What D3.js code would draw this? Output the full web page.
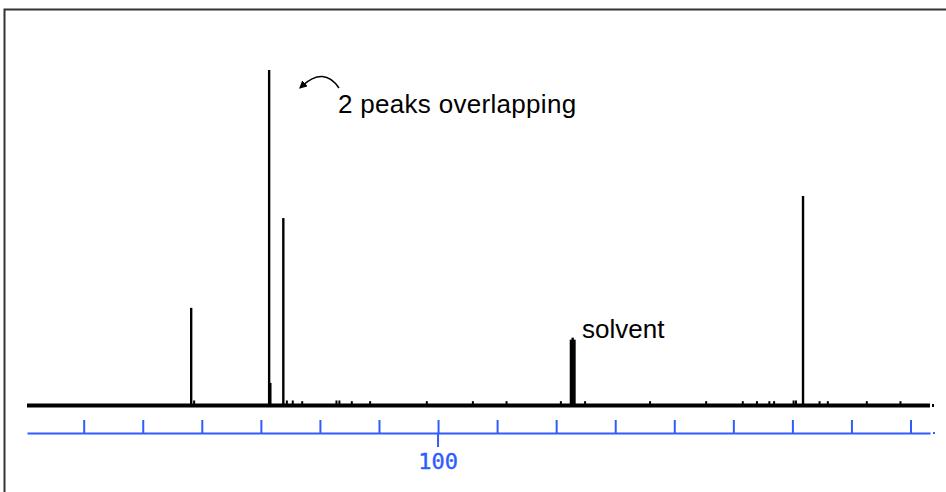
<!DOCTYPE html>
<html>
<head>
<meta charset="utf-8">
<script src="https://cdn.jsdelivr.net/npm/d3@7"></script>
<style>
  body { margin: 0; background: #fff; }
  svg { display: block; }
</style>
</head>
<body>
<svg id="svg-chart"></svg>
<script>
const width = 946;
const height = 492;

// 13C spectrum, chemical shift in ppm (decreasing to the right)
const peakPpm = [141.8, 128.6, 128.4, 126.2, 77.5, 77.2, 76.9, 38.2];
const peakIntensity = [29, 100, 6.6, 55.8, 19.5, 20.1, 19.5, 62.4];

// tiny bumps along the baseline
const noisePpm = [141.3, 125.6, 124.6, 123.0, 117.2, 116.7, 114.6, 111.5, 101.9, 94.1,
  88.4, 79.2, 75.1, 64.1, 54.6, 48.4, 46.0, 43.9, 43.1, 39.8, 39.4, 35.4, 34.0, 27.4, 21.7];
const noiseIntensity = [0.9, 0.9, 0.9, 0.7, 0.9, 0.9, 0.7, 0.7, 0.7, 0.7,
  0.7, 0.7, 0.7, 0.7, 0.7, 0.7, 0.7, 0.7, 0.7, 0.9, 0.9, 0.7, 0.7, 0.7, 0.7];

const tickValues = [160, 150, 140, 130, 120, 110, 100, 90, 80, 70, 60, 50, 40, 30, 20];
const labelledTicks = [100];

const svg = d3.select("#svg-chart").attr("width", width).attr("height", height);

const xScale = d3.scaleLinear().domain([169.6, 16.7]).range([27, 930]);
const yScale = d3.scaleLinear().domain([0, 100]).range([405, 70]);

// frame
svg.append("rect")
  .attr("x", 4.5).attr("y", 9.5)
  .attr("width", 1000).attr("height", 1000)
  .attr("fill", "none")
  .attr("stroke", "#333")
  .attr("stroke-width", 2);

// baseline
svg.append("line")
  .attr("x1", xScale.range()[0]).attr("x2", xScale.range()[1])
  .attr("y1", yScale(0) + 0.5).attr("y2", yScale(0) + 0.5)
  .attr("stroke", "#000")
  .attr("stroke-width", 4);
svg.append("rect")
  .attr("x", xScale.range()[1] + 2).attr("y", yScale(0) - 1)
  .attr("width", 2).attr("height", 3)
  .attr("fill", "#000");

// noise
svg.selectAll(".noise")
  .data(noisePpm)
  .join("line")
  .attr("class", "noise")
  .attr("x1", d => xScale(d)).attr("x2", d => xScale(d))
  .attr("y1", yScale(0))
  .attr("y2", (d, i) => yScale(noiseIntensity[i]) - 1.5)
  .attr("stroke", "#000")
  .attr("stroke-width", 2);

// peaks
svg.selectAll(".peak")
  .data(peakPpm)
  .join("line")
  .attr("class", "peak")
  .attr("x1", d => xScale(d)).attr("x2", d => xScale(d))
  .attr("y1", yScale(0))
  .attr("y2", (d, i) => yScale(peakIntensity[i]))
  .attr("stroke", "#000")
  .attr("stroke-width", 2.4);

// ppm axis
const blue = "#2f5cff";
const axis = d3.axisTop(xScale)
  .tickValues(tickValues)
  .tickSize(13)
  .tickSizeOuter(0)
  .tickFormat("");

const gAxis = svg.append("g")
  .attr("transform", "translate(0,433)")
  .call(axis);
gAxis.select(".domain").attr("stroke", blue).attr("stroke-width", 2);
gAxis.selectAll(".tick line").attr("stroke", blue).attr("stroke-width", 2);

gAxis.selectAll(".big")
  .data(labelledTicks)
  .join("line")
  .attr("class", "big")
  .attr("x1", d => xScale(d)).attr("x2", d => xScale(d))
  .attr("y1", 0).attr("y2", 14)
  .attr("stroke", blue)
  .attr("stroke-width", 2);

gAxis.selectAll(".lbl")
  .data(labelledTicks)
  .join("text")
  .attr("class", "lbl")
  .attr("x", d => xScale(d))
  .attr("y", 36)
  .attr("text-anchor", "middle")
  .attr("font-family", "DejaVu Sans Mono")
  .attr("font-size", 22)
  .attr("stroke", blue)
  .attr("stroke-width", 0.4)
  .attr("fill", blue)
  .text(d => d);

svg.append("rect")
  .attr("x", xScale.range()[1] + 3).attr("y", 432)
  .attr("width", 2).attr("height", 2)
  .attr("fill", blue);

// annotations
svg.append("text")
  .attr("x", 338).attr("y", 113)
  .attr("font-family", "Liberation Sans, Arial, sans-serif")
  .attr("font-size", 26)
  .attr("letter-spacing", 0.3)
  .attr("fill", "#000")
  .text("2 peaks overlapping");

svg.append("text")
  .attr("x", 582).attr("y", 338)
  .attr("font-family", "Liberation Sans, Arial, sans-serif")
  .attr("font-size", 26)
  .attr("fill", "#000")
  .text("solvent");

svg.append("defs").append("marker")
  .attr("id", "head")
  .attr("viewBox", "0 0 10 10")
  .attr("refX", 5).attr("refY", 5)
  .attr("markerWidth", 8).attr("markerHeight", 8)
  .attr("markerUnits", "userSpaceOnUse")
  .attr("orient", "auto")
  .append("path")
  .attr("d", "M0,0 L10,5 L0,10 Z")
  .attr("fill", "#000");

svg.append("path")
  .attr("d", "M339,88 Q324,66 302,86")
  .attr("fill", "none")
  .attr("stroke", "#000")
  .attr("stroke-width", 1.5)
  .attr("marker-end", "url(#head)");
</script>
</body>
</html>
